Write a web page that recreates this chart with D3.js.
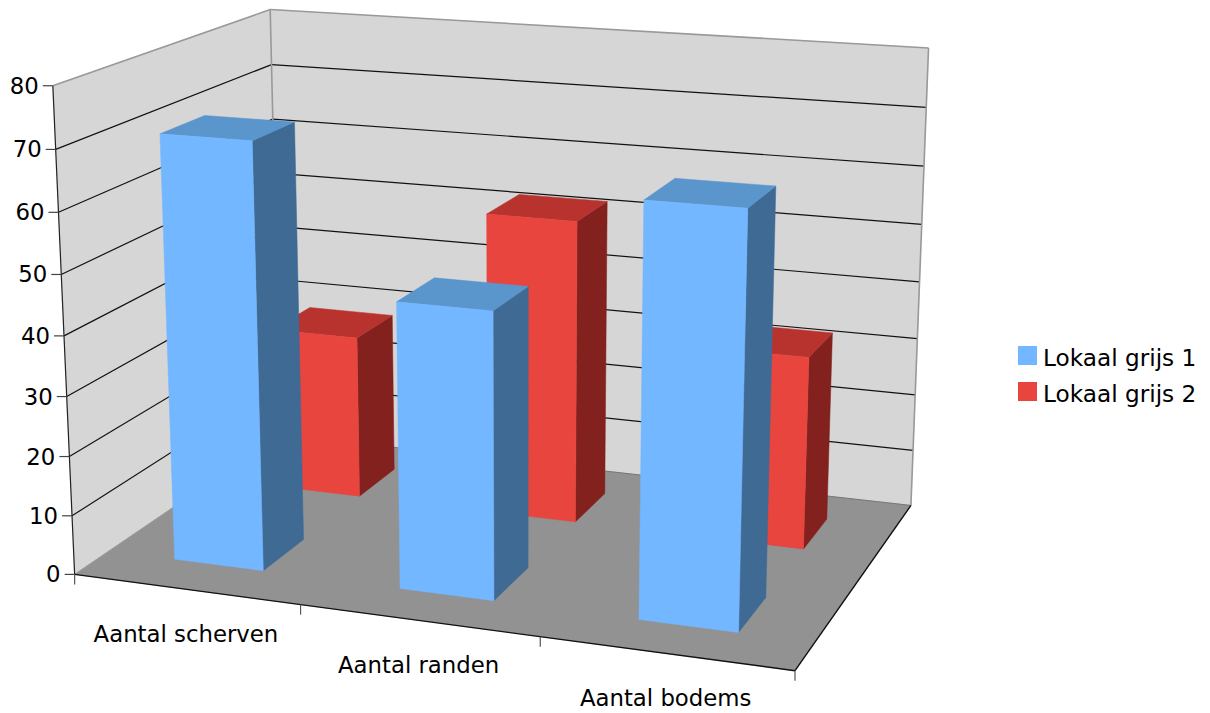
<!DOCTYPE html>
<html><head><meta charset="utf-8">
<script src="https://cdn.jsdelivr.net/npm/d3@7"></script>
<style>html,body{margin:0;background:#fff}svg{display:block}text{font-family:"DejaVu Sans",sans-serif;fill:#000}</style>
</head><body><svg id="c" width="1210" height="713"></svg>
<script>
const categories=["Aantal scherven","Aantal randen","Aantal bodems"];
const seriesNames=["Lokaal grijs 1","Lokaal grijs 2"];
const series1=[71,47.25,66.5];
const series2=[28.7,52.5,33];
const yTicks=[0,10,20,30,40,50,60,70,80];
const colors={s0:{front:"#72B7FF",side:"#3F6A94",top:"#5A95CC"},s1:{front:"#E8453F",side:"#82211D",top:"#B8332E"}};

// camera fit
const anchors=[[0,0,0,74,574],[1,0,0,795,671],[1,0,1,911,505],[0,0,1,281,435],[0,1,0,53,86],[0,1,1,270,10],[1,1,1,929,48],
[0,.75,0,59,212],[0,.125,0,72,516],[1,.5,1,919,282],[0,.875,1,271,64]];
function solve(A,b){const n=b.length,M=A.map((r,i)=>[...r,b[i]]);
 for(let i=0;i<n;i++){let p=i;for(let k=i+1;k<n;k++)if(Math.abs(M[k][i])>Math.abs(M[p][i]))p=k;[M[i],M[p]]=[M[p],M[i]];
  for(let k=0;k<n;k++){if(k===i)continue;const f=M[k][i]/M[i][i];for(let j=i;j<=n;j++)M[k][j]-=f*M[i][j];}}
 return M.map((r,i)=>r[n]/r[i]);}
const rows=[],rhs=[];
anchors.forEach(([u,v,w,px,py])=>{const X=px/1000,Y=py/1000;
 rows.push([u,v,w,1,0,0,0,0,-X*u,-X*v,-X*w]);rhs.push(X);
 rows.push([0,0,0,0,u,v,w,1,-Y*u,-Y*v,-Y*w]);rhs.push(Y);});
const ATA=d3.range(11).map(i=>d3.range(11).map(j=>d3.sum(rows,r=>r[i]*r[j])));
const ATb=d3.range(11).map(i=>d3.sum(rows,(r,k)=>r[i]*rhs[k]));
const h=solve(ATA,ATb);
const project=(u,v,w)=>{const d=h[8]*u+h[9]*v+h[10]*w+1;return[1000*(h[0]*u+h[1]*v+h[2]*w+h[3])/d,1000*(h[4]*u+h[5]*v+h[6]*w+h[7])/d];};

const xBand=d3.scaleBand().domain(categories).range([0,1]).paddingInner(.6).paddingOuter(.3);
const zBand=d3.scaleBand().domain(seriesNames).range([0,1]).paddingInner(.6).paddingOuter(.3);
const yS=d3.scaleLinear().domain([0,80]).range([0,1]);
const svg=d3.select("#c");
const line=d3.line();
const poly=(pts,fill,stroke)=>svg.append("path").attr("d",line(pts)+"Z").attr("fill",fill).attr("stroke",stroke||fill).attr("stroke-width",stroke?.6:.5);
poly([project(0,0,0),project(0,1,0),project(0,1,1),project(0,0,1)],"#D6D6D6");
poly([project(0,0,1),project(0,1,1),project(1,1,1),project(1,0,1)],"#D6D6D6");
poly([project(0,0,0),project(1,0,0),project(1,0,1),project(0,0,1)],"#929292");
const seg=(a,b,c,w)=>svg.append("line").attr("x1",a[0]).attr("y1",a[1]).attr("x2",b[0]).attr("y2",b[1]).attr("stroke",c).attr("stroke-width",w);
yTicks.filter(t=>t>0&&t<80).forEach(t=>{const v=yS(t);seg(project(0,v,0),project(0,v,1),"#111",1.2);seg(project(0,v,1),project(1,v,1),"#111",1.2);});
seg(project(0,1,0),project(0,1,1),"#999",1.6);seg(project(0,1,1),project(1,1,1),"#999",1.6);
seg(project(0,0,1),project(0,1,1),"#999",1.6);seg(project(1,0,1),project(1,1,1),"#999",1.6);
seg(project(0,0,0),project(0,0,1),"#999",1);
seg(project(0,0,1),project(1,0,1),"#777",1);
seg(project(0,0,0),project(0,1,0),"#222",1.2);
seg(project(0,0,0),project(1,0,0),"#111",1.4);
seg(project(1,0,0),project(1,0,1),"#111",1.4);
yTicks.forEach(t=>{const p=project(0,yS(t),0);seg([p[0]-10,p[1]],p,"#444",1.2);
 svg.append("text").attr("x",p[0]-14).attr("y",p[1]+8).attr("text-anchor","end").attr("font-size",22.8).text(t);});
[0,1,2,3].forEach(i=>{const p=project(i/3,0,0);seg(p,[p[0],p[1]+10],"#555",1.2);});
categories.forEach((c,i)=>{const p=project((i+.5)/3,0,0);
 svg.append("text").attr("x",p[0]).attr("y",p[1]+53).attr("text-anchor","middle").attr("font-size",22.8).text(c);});
function bar(cat,name,val,col){const u0=xBand(cat),u1=u0+xBand.bandwidth(),z0=zBand(name),z1=z0+zBand.bandwidth(),v=yS(val);
 poly([project(u1,0,z0),project(u1,v,z0),project(u1,v,z1),project(u1,0,z1)],col.side);
 poly([project(u0,v,z0),project(u1,v,z0),project(u1,v,z1),project(u0,v,z1)],col.top);
 poly([project(u0,0,z0),project(u1,0,z0),project(u1,v,z0),project(u0,v,z0)],col.front);}
categories.forEach((c,i)=>bar(c,seriesNames[1],series2[i],colors.s1));
categories.forEach((c,i)=>bar(c,seriesNames[0],series1[i],colors.s0));
seriesNames.forEach((n,i)=>{const y=346+36*i;
 svg.append("rect").attr("x",1018).attr("y",y).attr("width",19).attr("height",19).attr("fill",i?colors.s1.front:colors.s0.front);
 svg.append("text").attr("x",1043).attr("y",y+20).attr("font-size",23.2).text(n);});
</script></body></html>
